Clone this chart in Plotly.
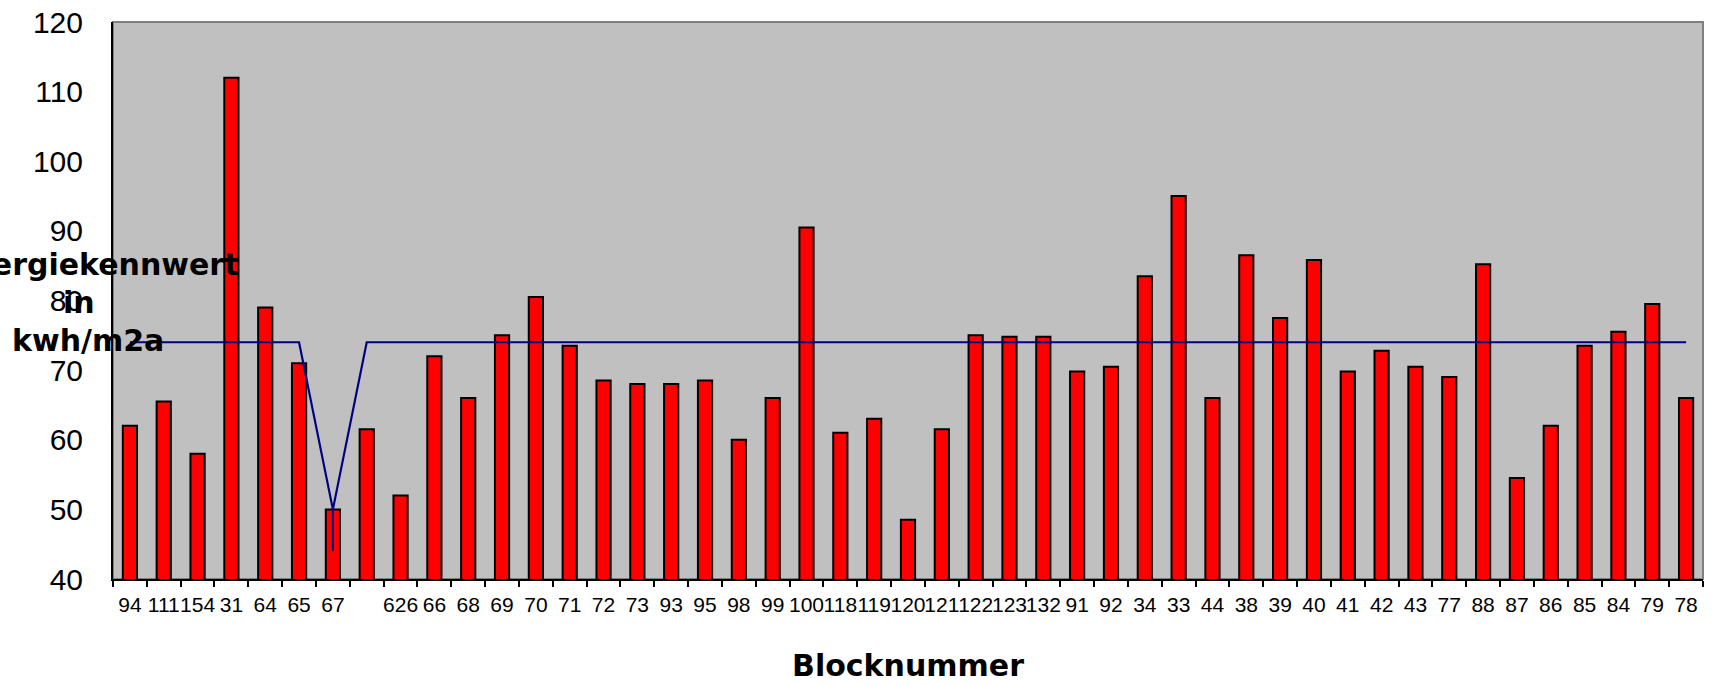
import plotly.graph_objects as go

# Category (block number) tick labels as printed under the bars
blocks = ["94", "111", "154", "31", "64", "65", "67", "", "626", "66",
          "68", "69", "70", "71", "72", "73", "93", "95", "98", "99",
          "100", "118", "119", "120", "121", "122", "123", "132", "91", "92",
          "34", "33", "44", "38", "39", "40", "41", "42", "43", "77",
          "88", "87", "86", "85", "84", "79", "78"]

# Energy figure per block (kWh/m2a)
energie = [62, 65.5, 58, 112, 79, 71, 50, 61.5, 52, 72,
           66, 75, 80.5, 73.5, 68.5, 68, 68, 68.5, 60, 66,
           90.5, 61, 63, 48.5, 61.5, 75, 74.8, 74.8, 69.8, 70.5,
           83.5, 95, 66, 86.5, 77.5, 85.8, 69.8, 72.8, 70.5, 69,
           85.2, 54.5, 62, 73.5, 75.5, 79.5, 66]

# Reference line
grenzwert = [74, 74, 74, 74, 74, 74, 50, 74, 74, 74,
             74, 74, 74, 74, 74, 74, 74, 74, 74, 74,
             74, 74, 74, 74, 74, 74, 74, 74, 74, 74,
             74, 74, 74, 74, 74, 74, 74, 74, 74, 74,
             74, 74, 74, 74, 74, 74, 74]

# small downward stroke drawn at the dip of the reference line
grenz_unten = [0, 0, 0, 0, 0, 0, 6, 0, 0, 0,
               0, 0, 0, 0, 0, 0, 0, 0, 0, 0,
               0, 0, 0, 0, 0, 0, 0, 0, 0, 0,
               0, 0, 0, 0, 0, 0, 0, 0, 0, 0,
               0, 0, 0, 0, 0, 0, 0]
grenz_oben = [0, 0, 0, 0, 0, 0, 0, 0, 0, 0,
              0, 0, 0, 0, 0, 0, 0, 0, 0, 0,
              0, 0, 0, 0, 0, 0, 0, 0, 0, 0,
              0, 0, 0, 0, 0, 0, 0, 0, 0, 0,
              0, 0, 0, 0, 0, 0, 0]

y_ticks = [40, 50, 60, 70, 80, 90, 100, 110, 120]

idx = list(range(len(blocks)))

fig = go.Figure()
fig.add_trace(go.Bar(
    x=idx, y=energie, width=0.42,
    marker=dict(color="#FF0000", line=dict(color="black", width=2)),
    name="Energiekennwert",
))
fig.add_trace(go.Scatter(
    x=idx, y=grenzwert, mode="lines",
    line=dict(color="#000080", width=2.2),
    error_y=dict(type="data", symmetric=False, array=grenz_oben,
                 arrayminus=grenz_unten, width=0, thickness=2, color="#000080"),
    name="Grenzwert",
))

fig.update_layout(
    width=1712, height=685,
    margin=dict(l=113, r=9, t=22, b=106, autoexpand=False),
    paper_bgcolor="white",
    plot_bgcolor="#C0C0C0",
    showlegend=False,
    font=dict(family="Liberation Sans, Arial, sans-serif", color="black"),
)

fig.update_xaxes(
    range=[-0.5, len(blocks) - 0.5],
    tickmode="array", tickvals=idx, ticktext=blocks,
    tickangle=0,
    ticks="outside", ticklen=6, tickcolor="rgba(0,0,0,0)",
    tickfont=dict(size=21, family="Liberation Sans, Arial, sans-serif"),
    minor=dict(tickmode="linear", tick0=-0.5, dtick=1, ticks="outside",
               ticklen=6, tickwidth=2, tickcolor="black", showgrid=False),
    showline=True, linecolor="black", linewidth=2, mirror=False,
    showgrid=False, zeroline=False, automargin=False,
    title=dict(text="<b>Blocknummer</b>",
               font=dict(size=30, family="DejaVu Sans, sans-serif"),
               standoff=40),
)

fig.update_yaxes(
    range=[40, 120],
    tickmode="array", tickvals=y_ticks,
    ticks="outside", ticklen=22, tickcolor="rgba(0,0,0,0)",
    tickfont=dict(size=30, family="Liberation Sans, Arial, sans-serif"),
    showline=True, linecolor="black", linewidth=2, mirror=False,
    showgrid=False, zeroline=False, automargin=False,
)

# plot-area frame (top/right in grey)
fig.add_shape(type="rect", xref="paper", yref="paper", x0=0, x1=1, y0=0, y1=1,
              line=dict(color="#808080", width=2), layer="below")

# horizontal y-axis title, three lines, overlapping the plot edge
title_lines = ["<b>Energiekennwert</b>", "<b>in</b>", "<b>kwh/m2a</b>"]
title_y = [0.564, 0.497, 0.429]
title_dx = [-19, -34, -25]
for txt, yy, dx in zip(title_lines, title_y, title_dx):
    fig.add_annotation(text=txt, xref="paper", yref="paper", x=0, y=yy,
                       xanchor="center", yanchor="middle", xshift=dx,
                       showarrow=False,
                       font=dict(size=30, family="DejaVu Sans, sans-serif", color="black"))

fig.write_html("out.html", config={"displayModeBar": False},
               post_script="document.body.style.margin='0px';document.body.style.overflow='hidden';")
